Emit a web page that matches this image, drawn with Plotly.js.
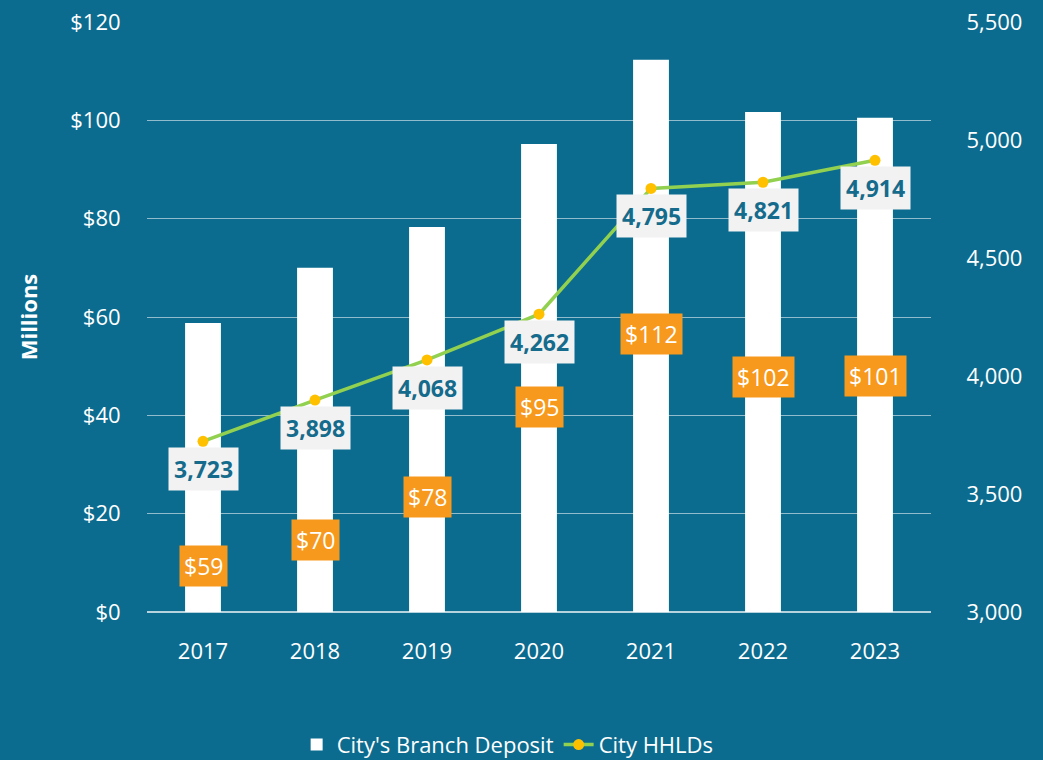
<!DOCTYPE html>
<html>
<head>
<meta charset="utf-8">
<script src="https://cdn.plot.ly/plotly-3.0.1.min.js"></script>
<style>html,body{margin:0;padding:0;background:#0b6c8f;}#chart{width:1043px;height:760px;}</style>
</head>
<body>
<div id="chart"></div>
<script>
const years = ['2017','2018','2019','2020','2021','2022','2023'];
const deposits = [58.8, 70.0, 78.3, 95.2, 112.3, 101.7, 100.5];
const hhlds = [3723, 3898, 4068, 4262, 4795, 4821, 4914];
const depositLabelY = [9.4, 14.6, 23.4, 41.7, 56.5, 47.8, 48.0];

const bg = '#0b6c8f';
const fontFam = '"Open Sans", "Liberation Sans", sans-serif';
const xs = years.map(Number);

const traces = [
  {
    type: 'bar', name: "City's Branch Deposit", x: xs, y: deposits, width: 0.32,
    marker: {color: '#ffffff'}
  },
  {
    type: 'scatter', mode: 'lines+markers', name: 'City HHLDs', x: xs, y: hhlds, yaxis: 'y2',
    line: {color: '#92d050', width: 3.5}, marker: {color: '#ffc000', size: 11}
  }
];

const annotations = [];
xs.forEach((xv, i) => {
  annotations.push({
    x: xv, y: depositLabelY[i], xref: 'x', yref: 'y',
    text: '$' + Math.round(deposits[i]), showarrow: false,
    bgcolor: '#f7991c', borderpad: 4,
    font: {family: fontFam, size: 23, color: '#ffffff'}
  });
  annotations.push({
    x: xv, y: hhlds[i], xref: 'x', yref: 'y2', yshift: -28,
    text: '<b>' + hhlds[i].toLocaleString('en-US') + '</b>', showarrow: false,
    bgcolor: '#f2f2f2', borderpad: 5,
    font: {family: fontFam, size: 23, color: '#156b8c'}
  });
});

const layout = {
  width: 1043, height: 760,
  paper_bgcolor: bg, plot_bgcolor: bg,
  margin: {l: 147, r: 112, t: 22, b: 148},
  font: {family: fontFam, color: '#ffffff', size: 22},
  showlegend: true,
  legend: {orientation: 'h', x: 0.46, xanchor: 'center', yref: 'container', y: 0.02, yanchor: 'middle',
           font: {size: 22, color: '#ffffff'}, bgcolor: 'rgba(0,0,0,0)'},
  xaxis: {type: 'linear', range: [2016.5, 2023.5], tickvals: xs, ticktext: years,
          showgrid: false, zeroline: false, showline: false,
          tickfont: {size: 22, color: '#ffffff'}, ticks: 'outside', ticklen: 20, tickcolor: 'rgba(0,0,0,0)'},
  yaxis: {range: [0, 120], dtick: 20, tickprefix: '$', showgrid: true,
          gridcolor: 'rgba(255,255,255,0.55)', gridwidth: 1, zeroline: true,
          zerolinecolor: 'rgba(255,255,255,0.7)', zerolinewidth: 1.5,
          tickfont: {size: 22, color: '#ffffff'}, ticks: 'outside', ticklen: 21, tickcolor: 'rgba(0,0,0,0)',
          title: {text: '<b>Millions</b>', font: {size: 22, color: '#ffffff'}, standoff: 26}},
  yaxis2: {range: [3000, 5500], dtick: 500, overlaying: 'y', side: 'right', showgrid: false,
           zeroline: false, tickformat: ',', tickfont: {size: 22, color: '#ffffff'},
           ticks: 'outside', ticklen: 30, tickcolor: 'rgba(0,0,0,0)'},
  annotations: annotations
};

Plotly.newPlot('chart', traces, layout, {displayModeBar: false, staticPlot: true});
</script>
</body>
</html>
